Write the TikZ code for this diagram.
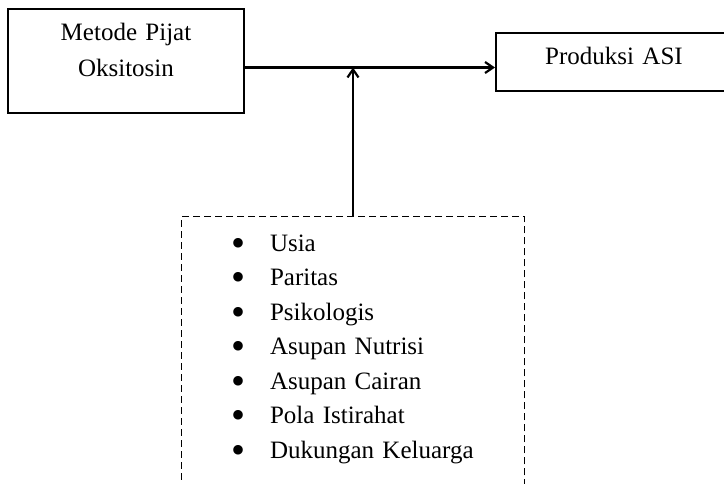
\documentclass[tikz,border=0pt]{standalone}
\usepackage{graphicx}
\usepackage{fontspec}
\setmainfont{Liberation Serif}
\usetikzlibrary{positioning, arrows.meta}
\tikzstyle{mainbox} = [rectangle, draw=black, line width=1pt, minimum width=118pt, text width=100pt, align=center, inner ysep=7pt, font=\fontsize{12.5}{18}\selectfont]
\tikzstyle{factorbox} = [rectangle, draw=black, dash pattern=on 3.5pt off 2pt, line width=0.7pt, minimum width=171.5pt, text width=122pt, align=left, inner xsep=0pt, inner ysep=9pt, text depth=124pt, font=\fontsize{12.5}{17.25}\selectfont]
\tikzstyle{connector} = [line width=1.1pt, -{Straight Barb[length=4pt,width=5.5pt]}]
\newcommand{\butir}[1]{\mbox{\makebox[19.5pt][l]{\raisebox{-2.6pt}{\scalebox{1.6}{\textbullet}}}#1}}

\begin{document}
\begin{tikzpicture}
\useasboundingbox (0,0) rectangle (362pt,-241.5pt);
\node (pijat) [mainbox, anchor=north, text depth=29.5pt] at (63pt,-4pt) {Metode Pijat\\Oksitosin};
\node (asi) [mainbox, text depth=6.5pt, below right=12pt and 125pt of pijat.north east] {Produksi ASI};
\coordinate (temu) at (176.5pt,-33.75pt);
\node (faktor) [factorbox, below=74.25pt of temu] {\butir{Usia}\\\butir{Paritas}\\\butir{Psikologis}\\\butir{Asupan Nutrisi}\\\butir{Asupan Cairan}\\\butir{Pola Istirahat}\\\butir{Dukungan Keluarga}};

\draw[connector] (pijat.east |- temu) -- (asi.west |- temu);
\draw[connector] (faktor.north) -- (temu);
\end{tikzpicture}
\end{document}
